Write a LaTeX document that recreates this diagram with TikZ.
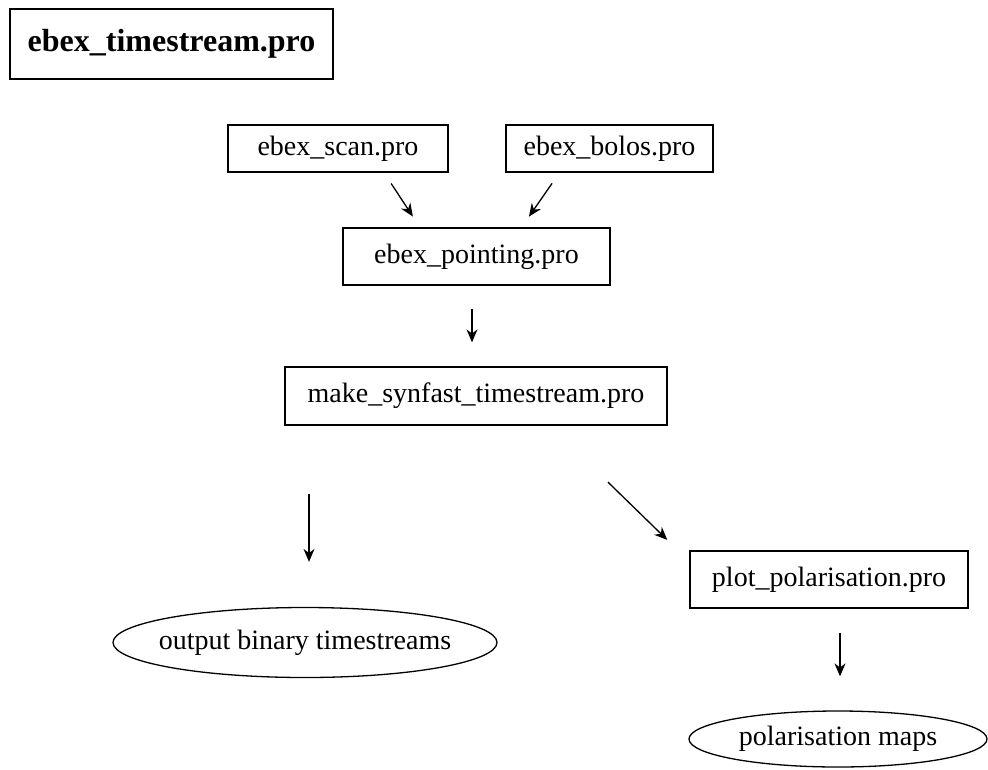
\documentclass[tikz,border=0pt]{standalone}
\usepackage{fontspec}
\setmainfont{Liberation Serif}
\usetikzlibrary{arrows.meta,shapes.geometric}
\tikzset{
  box/.style={draw, line width=1.3pt, rectangle, inner sep=0pt, font=\fontsize{28}{31}\selectfont},
  oval/.style={draw, line width=1.3pt, ellipse, inner ysep=0pt, inner xsep=-40pt, font=\fontsize{28}{31}\selectfont},
  arr/.style={line width=1.3pt, -{Stealth[length=13pt,width=11pt]}}
}
\begin{document}
\begin{tikzpicture}[x=1pt,y=-1pt]
\useasboundingbox (0,0) rectangle (988,769);
\node[box, minimum width=323pt, minimum height=70pt, font=\fontsize{32}{35}\selectfont\bfseries] (title) at (171.5,44) {ebex\_timestream.pro};
\node[box, minimum width=220pt, minimum height=47pt] (scan) at (338,148.5) {ebex\_scan.pro};
\node[box, minimum width=207pt, minimum height=47pt] (bolos) at (609.5,148.5) {ebex\_bolos.pro};
\node[box, minimum width=267pt, minimum height=57pt] (pointing) at (476.5,256.5) {ebex\_pointing.pro};
\node[box, minimum width=382pt, minimum height=58pt] (make) at (476,396) {make\_synfast\_timestream.pro};
\node[box, minimum width=278pt, minimum height=57pt] (plot) at (829,579.5) {plot\_polarisation.pro};
\node[oval, minimum width=384pt, minimum height=70pt] (out) at (305,642.5) {output binary timestreams};
\node[oval, minimum width=298pt, minimum height=56pt] (maps) at (838,739) {polarisation maps};

\draw[arr, shorten <=13pt, shorten >=13pt] ([xshift=46pt]scan.south) -- ([xshift=-56.5pt]pointing.north);
\draw[arr, shorten <=13pt, shorten >=13pt] ([xshift=-50pt]bolos.south) -- ([xshift=45pt]pointing.north);
\draw[arr, shorten <=23pt, shorten >=24pt] ([xshift=-4.5pt]pointing.south) -- ([xshift=-4pt]make.north);
\draw[arr, shorten <=68pt, shorten >=45pt] ([xshift=-167pt]make.south) -- ([xshift=4pt]out.north);
\draw[arr, shorten <=81pt, shorten >=15pt] ([xshift=74pt]make.south) -- ([xshift=-151pt]plot.north);
\draw[arr, shorten <=24pt, shorten >=34pt] ([xshift=11pt]plot.south) -- ([xshift=2pt]maps.north);
\end{tikzpicture}
\end{document}
